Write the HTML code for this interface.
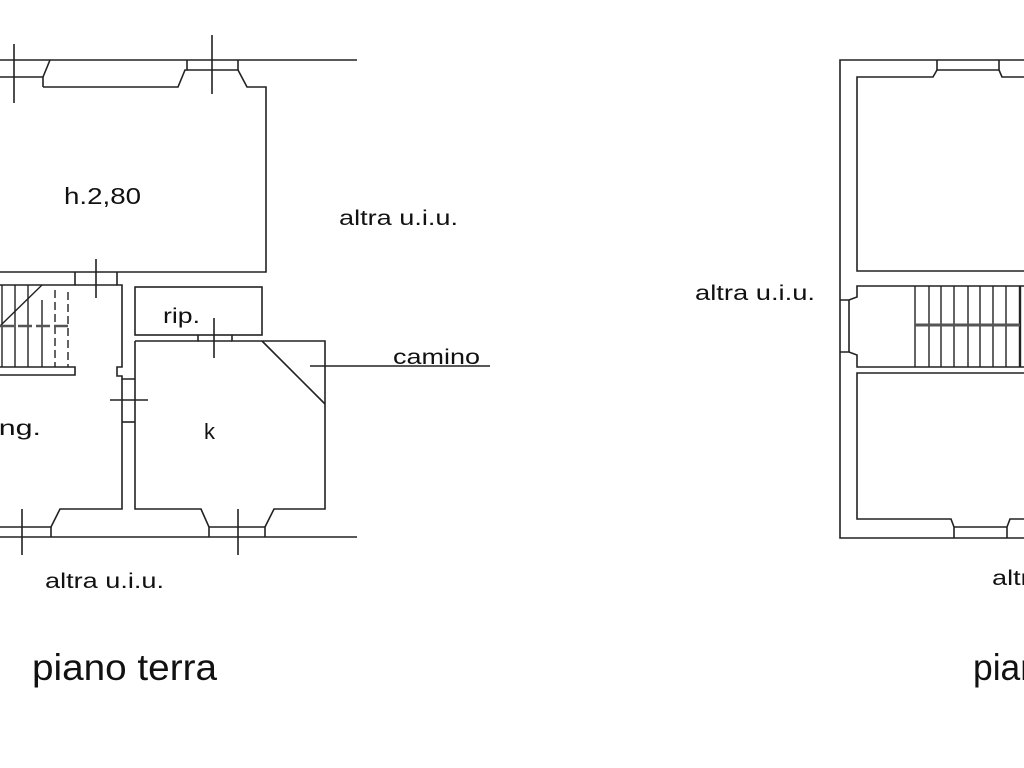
<!DOCTYPE html>
<html><head><meta charset="utf-8"><style>
html,body{margin:0;padding:0;background:#fff;width:1024px;height:768px;overflow:hidden}
svg{display:block}
text{font-family:"Liberation Sans",sans-serif;fill:#111}
</style></head><body>
<svg width="1024" height="768" viewBox="0 0 1024 768" xmlns="http://www.w3.org/2000/svg">
<g stroke="#222" stroke-width="1.6" fill="none">
<line x1="0" y1="60" x2="357" y2="60"/>
<polyline points="0,77 43,77 43,87"/>
<polyline points="43,77 50,60"/>
<polyline points="43,87 178,87 185,70 187,70 187,60"/>
<polyline points="187,70 238,70 238,60"/>
<polyline points="238,70 247,87 266,87 266,272 0,272"/>
<line x1="14" y1="44" x2="14" y2="103"/>
<line x1="212" y1="35" x2="212" y2="94"/>
<polyline points="75,272 75,285 0,285"/>
<polyline points="117,272 117,285 122,285 122,367 117,367 117,376 122,376 122,379 135,379"/>
<line x1="75" y1="285" x2="117" y2="285"/>
<line x1="96" y1="259" x2="96" y2="298"/>
<polyline points="122,379 122,509 60,509 51,527 0,527"/>
<line x1="122" y1="422" x2="135" y2="422"/>
<line x1="110" y1="400" x2="148" y2="400"/>
<line x1="51" y1="527" x2="51" y2="537"/>
<line x1="0" y1="537" x2="357" y2="537"/>
<line x1="22" y1="509" x2="22" y2="555"/>
<g stroke-width="1.4">
<line x1="2" y1="285" x2="2" y2="367"/>
<line x1="15" y1="285" x2="15" y2="367"/>
<line x1="28" y1="285" x2="28" y2="367"/>
<line x1="42" y1="300" x2="42" y2="367"/>
<line x1="55" y1="290" x2="55" y2="367" stroke-dasharray="8,4"/>
<line x1="68" y1="292" x2="68" y2="367" stroke-dasharray="8,4"/>
<line x1="42" y1="285" x2="0" y2="326"/>
<line x1="0" y1="326" x2="68" y2="326" stroke-width="2.6" stroke="#555" stroke-dasharray="14,4"/>
</g>
<polyline points="0,367 75,367 75,375 0,375"/>
<rect x="135" y="287" width="127" height="48"/>
<polyline points="135,341 198,341 198,335"/>
<polyline points="232,335 232,341 325,341 325,509 274,509 265,527 265,537"/>
<line x1="198" y1="341" x2="232" y2="341"/>
<polyline points="135,341 135,509 201,509 209,527 209,537"/>
<line x1="209" y1="527" x2="265" y2="527"/>
<line x1="214" y1="318" x2="214" y2="358"/>
<line x1="238" y1="509" x2="238" y2="555"/>
<line x1="262" y1="341" x2="325" y2="404"/>
<line x1="310" y1="366" x2="490" y2="366"/>
<polyline points="1024,60 840,60 840,538 1024,538"/>
<polyline points="937,60 937,70 999,70 999,60"/>
<polyline points="1024,77 1002,77 999,70"/>
<polyline points="937,70 933,77 857,77 857,271 1024,271"/>
<polyline points="1024,286 857,286 857,297 849,300 840,300"/>
<polyline points="840,352 849,352 857,355 857,367 1024,367"/>
<line x1="849" y1="300" x2="849" y2="352"/>
<polyline points="1024,373 857,373 857,519 951,519 954,527 954,538"/>
<polyline points="1024,519 1010,519 1007,527 1007,538"/>
<line x1="954" y1="527" x2="1007" y2="527"/>
<g stroke-width="1.4">
<line x1="915" y1="286" x2="915" y2="367"/>
<line x1="929" y1="286" x2="929" y2="367"/>
<line x1="941" y1="286" x2="941" y2="367"/>
<line x1="954" y1="286" x2="954" y2="367"/>
<line x1="968" y1="286" x2="968" y2="367"/>
<line x1="980" y1="286" x2="980" y2="367"/>
<line x1="993" y1="286" x2="993" y2="367"/>
<line x1="1006" y1="286" x2="1006" y2="367"/>
<line x1="1020" y1="286" x2="1020" y2="367" stroke-width="2.4"/>
<line x1="915" y1="325" x2="1020" y2="325" stroke-width="3" stroke="#555"/>
</g>
</g>
<g lengthAdjust="spacingAndGlyphs">
<text x="64" y="204" font-size="23" textLength="77" lengthAdjust="spacingAndGlyphs">h.2,80</text>
<text x="339" y="225" font-size="21" textLength="119" lengthAdjust="spacingAndGlyphs">altra u.i.u.</text>
<text x="163" y="323" font-size="21" textLength="37" lengthAdjust="spacingAndGlyphs">rip.</text>
<text x="393" y="364" font-size="21" textLength="87" lengthAdjust="spacingAndGlyphs">camino</text>
<text x="-8" y="435" font-size="21" textLength="49" lengthAdjust="spacingAndGlyphs">ing.</text>
<text x="204" y="439" font-size="22">k</text>
<text x="45" y="588" font-size="21" textLength="119" lengthAdjust="spacingAndGlyphs">altra u.i.u.</text>
<text x="32" y="680" font-size="37" textLength="185" lengthAdjust="spacingAndGlyphs">piano terra</text>
<text x="695" y="300" font-size="21" textLength="120" lengthAdjust="spacingAndGlyphs">altra u.i.u.</text>
<text x="992" y="585" font-size="21" textLength="119" lengthAdjust="spacingAndGlyphs">altra u.i.u.</text>
<text x="973" y="680" font-size="37" textLength="185" lengthAdjust="spacingAndGlyphs">piano primo</text>
</g>
</svg>
</body></html>
